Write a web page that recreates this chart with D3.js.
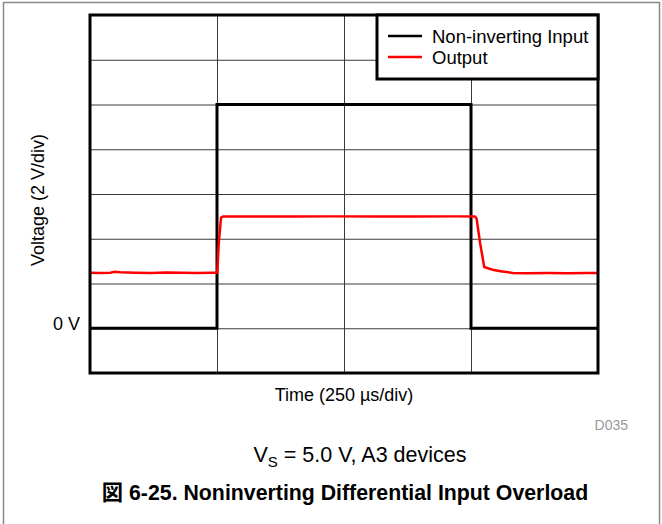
<!DOCTYPE html>
<html lang="en">
<head>
    <meta charset="UTF-8">
    <title>Noninverting Differential Input Overload</title>
    <script src="https://cdn.jsdelivr.net/npm/d3@7"></script>
    <style>
        body { margin: 0; background: #fff; }
        text { font-family: "Liberation Sans", Arial, "Noto Sans CJK JP", sans-serif; fill: #000; }
        .grid line { stroke: #3a3a3a; stroke-width: 1px; }
        .grid path { display: none; }
        .grid text { display: none; }
    </style>
</head>
<body>
<div id="chart"></div>
<script>
    // time in us, voltage in V (2 V/div, 250 us/div)
    var timeTicks = [0, 250, 500, 750, 1000];
    var voltTicks = [-2, 0, 2, 4, 6, 8, 10, 12, 14];

    var inputT = [0, 250, 250, 750, 750, 1000];
    var inputV = [0, 0, 10, 10, 0, 0];

    var outputT = [0, 18, 40, 47, 60, 90, 120, 150, 180, 210, 240, 250.5, 253.5, 258, 262,
                   320, 400, 480, 560, 640, 720, 758, 761, 768, 776, 785, 795, 808, 820, 832,
                   860, 900, 940, 980, 1000];
    var outputV = [2.48, 2.47, 2.48, 2.52, 2.50, 2.48, 2.47, 2.49, 2.48, 2.47, 2.48, 2.48, 3.8, 4.95, 5.0,
                   5.0, 4.99, 5.0, 5.0, 4.99, 5.0, 5.0, 4.9, 3.8, 2.74, 2.67, 2.60, 2.55, 2.51, 2.47,
                   2.46, 2.47, 2.46, 2.47, 2.47];

    var seriesNames = ["Non-inverting Input", "Output"];
    var seriesColors = ["#000000", "#ff0000"];

    var W = 662, H = 524;
    var plot = {left: 90, top: 15, right: 598, bottom: 373};

    var svg = d3.select("#chart").append("svg")
        .attr("width", W)
        .attr("height", H);

    // outer frame
    svg.append("rect")
        .attr("x", 3.5).attr("y", 2.5)
        .attr("width", 656).attr("height", 600)
        .attr("fill", "none")
        .attr("stroke", "#888")
        .attr("stroke-width", 1.5);

    var x = d3.scaleLinear().domain([0, 1000]).range([plot.left, plot.right]);
    var y = d3.scaleLinear().domain([-2, 14]).range([plot.bottom, plot.top]);

    // grid
    svg.append("g")
        .attr("class", "grid")
        .attr("transform", "translate(0," + plot.bottom + ")")
        .call(d3.axisBottom(x).tickValues(timeTicks.slice(1, -1))
            .tickSize(-(plot.bottom - plot.top)).tickFormat(""));
    svg.append("g")
        .attr("class", "grid")
        .attr("transform", "translate(" + plot.left + ",0)")
        .call(d3.axisLeft(y).tickValues(voltTicks.slice(1, -1))
            .tickSize(-(plot.right - plot.left)).tickFormat(""));

    var line = d3.line()
        .x(function (d) { return x(d[0]); })
        .y(function (d) { return y(d[1]); });

    svg.append("path")
        .datum(d3.zip(inputT, inputV))
        .attr("fill", "none")
        .attr("stroke", seriesColors[0])
        .attr("stroke-width", 3)
        .attr("d", line);

    svg.append("path")
        .datum(d3.zip(outputT, outputV))
        .attr("fill", "none")
        .attr("stroke", seriesColors[1])
        .attr("stroke-width", 2.5)
        .attr("stroke-linejoin", "round")
        .attr("d", line);

    // plot frame
    svg.append("rect")
        .attr("x", plot.left).attr("y", plot.top)
        .attr("width", plot.right - plot.left)
        .attr("height", plot.bottom - plot.top)
        .attr("fill", "none")
        .attr("stroke", "#000")
        .attr("stroke-width", 3);

    // legend
    var lg = svg.append("g");
    lg.append("rect")
        .attr("x", 377).attr("y", plot.top)
        .attr("width", plot.right - 377).attr("height", 64)
        .attr("fill", "#fff")
        .attr("stroke", "#000")
        .attr("stroke-width", 3);
    seriesNames.forEach(function (name, i) {
        lg.append("line")
            .attr("x1", 388).attr("x2", 422)
            .attr("y1", 36 + i * 21).attr("y2", 36 + i * 21)
            .attr("stroke", seriesColors[i])
            .attr("stroke-width", 2.5);
        lg.append("text")
            .attr("x", 432).attr("y", 43 + i * 21)
            .style("font-size", "18.5px")
            .text(name);
    });

    // labels
    svg.append("text")
        .attr("x", 80).attr("y", 330)
        .style("text-anchor", "end")
        .style("font-size", "18px")
        .text("0 V");

    svg.append("text")
        .attr("transform", "translate(44," + ((plot.top + plot.bottom) / 2 + 6) + ") rotate(-90)")
        .style("text-anchor", "middle")
        .style("font-size", "18px")
        .text("Voltage (2 V/div)");

    svg.append("text")
        .attr("x", (plot.left + plot.right) / 2).attr("y", 401)
        .style("text-anchor", "middle")
        .style("font-size", "18px")
        .text("Time (250 \u00b5s/div)");

    svg.append("text")
        .attr("x", 628).attr("y", 430)
        .style("text-anchor", "end")
        .style("font-size", "14px")
        .style("fill", "#999")
        .text("D035");

    var cond = svg.append("text")
        .attr("x", 360).attr("y", 462)
        .style("text-anchor", "middle")
        .style("font-size", "21.5px");
    cond.append("tspan").text("V");
    cond.append("tspan").attr("dy", 5).style("font-size", "15px").text("S");
    cond.append("tspan").attr("dy", -5).text(" = 5.0 V, A3 devices");

    svg.append("text")
        .attr("x", 345).attr("y", 500)
        .style("text-anchor", "middle")
        .style("font-size", "21.3px")
        .style("font-weight", "bold")
        .text("\u56f3 6-25. Noninverting Differential Input Overload");
</script>
</body>
</html>
